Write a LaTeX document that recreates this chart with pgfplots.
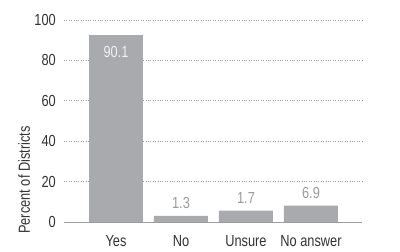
\documentclass[border=0pt]{standalone}
\usepackage{fontspec}
\setmainfont{Liberation Sans}[FakeStretch=0.8]
\usepackage{pgfplots}
\usepackage{pgfplotstable}
\pgfplotsset{compat=1.18}
\definecolor{barg}{HTML}{A8AAAD}
\definecolor{txtg}{HTML}{333333}
\definecolor{lblg}{HTML}{9A9A9A}
\definecolor{gridg}{HTML}{9C9C9C}
\pgfplotstableread{
x h lab
0 92.6 90.1
}\yesdata
\pgfplotstableread{
x h lab
1 3.0 1.3
2 5.6 1.7
3 8.1 6.9
}\otherdata
\begin{document}
\begin{tikzpicture}
\begin{axis}[
  at={(0,0)}, anchor=south west,
  scale only axis, width=298pt, height=202pt,
  xmin=-0.8, xmax=3.785, ymin=0, ymax=100,
  axis line style={draw=none},
  tick style={draw=none}, major tick length=0pt,
  xtick={0,1,2,3}, xticklabels={Yes,No,Unsure,No answer},
  ytick={20,40,60,80,100},
  extra y ticks={0},
  extra y tick style={grid style={solid, draw=gridg, line width=0.8pt}},
  ymajorgrids,
  grid style={dotted, draw=gridg, line width=0.6pt},
  ticklabel style={font=\fontsize{16}{16}\selectfont, text=txtg},
  yticklabel style={inner sep=0pt, anchor=east, xshift=-8pt},
  xticklabel style={inner sep=0pt, anchor=north, yshift=-13pt},
  ylabel={Percent of Districts},
  ylabel style={font=\fontsize{16}{16}\selectfont, text=txtg, at={(axis description cs:-0.134,0.208)}, anchor=center},
  ybar, bar width=54pt,
  /pgf/number format/assume math mode=true,
  clip=false,
]
\addplot[fill=barg, draw=none, bar shift=0pt,
  point meta=explicit symbolic,
  nodes near coords,
  nodes near coords style={anchor=center, yshift=-17pt, text=white!88!gray, font=\fontsize{16}{16}\selectfont}]
  table[x=x, y=h, meta=lab] {\yesdata};
\addplot[fill=barg, draw=none, bar shift=0pt,
  point meta=explicit symbolic,
  nodes near coords,
  nodes near coords style={anchor=center, yshift=13pt, text=lblg, font=\fontsize{16}{16}\selectfont}]
  table[x=x, y=h, meta=lab] {\otherdata};
\end{axis}
\pgfresetboundingbox
\useasboundingbox (-64pt,-30pt) rectangle (336pt,222pt);
\end{tikzpicture}
\end{document}
